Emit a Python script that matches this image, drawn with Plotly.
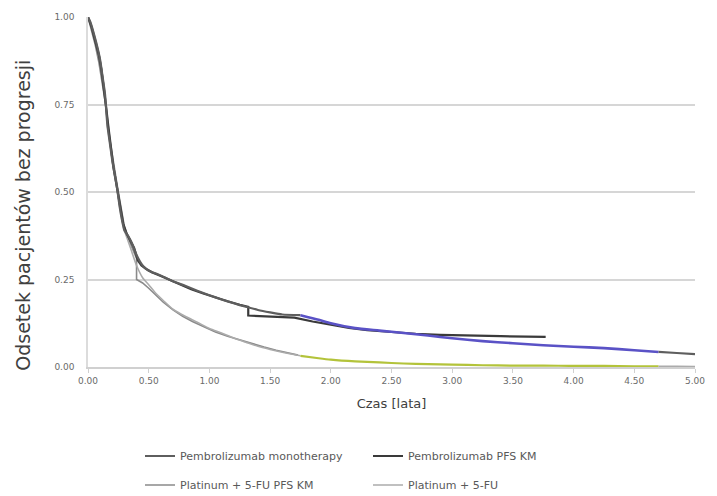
import plotly.graph_objects as go

# ---------------- data ----------------
t_model = [0, 0.02, 0.05, 0.08, 0.10, 0.12, 0.14, 0.16, 0.18, 0.20, 0.22, 0.24, 0.26, 0.28,
           0.30, 0.33, 0.36, 0.40, 0.45, 0.50, 0.56, 0.62, 0.70, 0.80, 0.90, 1.00, 1.10, 1.20,
           1.30, 1.40, 1.50, 1.60, 1.75, 1.90, 2.00, 2.20, 2.40, 2.60, 2.80, 3.00, 3.25, 3.50,
           3.75, 4.00, 4.25, 4.50, 4.70, 4.85, 5.00]
pembro_model = [1.00, 0.985, 0.95, 0.91, 0.877, 0.83, 0.78, 0.69, 0.64, 0.59, 0.55, 0.51, 0.46,
                0.42, 0.39, 0.375, 0.355, 0.32, 0.29, 0.275, 0.267, 0.258, 0.245, 0.232, 0.218,
                0.205, 0.193, 0.182, 0.172, 0.163, 0.156, 0.150, 0.148, 0.135, 0.125, 0.111,
                0.104, 0.097, 0.090, 0.082, 0.074, 0.068, 0.062, 0.058, 0.054, 0.048, 0.043,
                0.040, 0.037]
platinum_model = [1.00, 0.985, 0.95, 0.91, 0.877, 0.83, 0.78, 0.69, 0.64, 0.59, 0.55, 0.51, 0.46,
                  0.42, 0.39, 0.36, 0.33, 0.29, 0.255, 0.235, 0.21, 0.19, 0.165, 0.145, 0.128,
                  0.11, 0.097, 0.083, 0.071, 0.059, 0.05, 0.042, 0.032, 0.025, 0.021, 0.016,
                  0.013, 0.010, 0.008, 0.007, 0.005, 0.004, 0.004, 0.003, 0.003, 0.002, 0.002,
                  0.002, 0.001]

t_km_pembro = [0, 0.03, 0.06, 0.09, 0.11, 0.13, 0.15, 0.17, 0.19, 0.21, 0.23, 0.25, 0.27, 0.29,
               0.32, 0.35, 0.38, 0.41, 0.44, 0.48, 0.53, 0.60, 0.68, 0.76, 0.85, 0.95, 1.05,
               1.15, 1.25, 1.32, 1.32, 1.50, 1.70, 1.85, 2.00, 2.15, 2.30, 2.50, 2.70, 2.90,
               3.10, 3.40, 3.77]
km_pembro = [1.0, 0.97, 0.93, 0.89, 0.85, 0.80, 0.74, 0.68, 0.62, 0.57, 0.53, 0.49, 0.45, 0.41,
             0.38, 0.36, 0.34, 0.305, 0.29, 0.28, 0.27, 0.26, 0.248, 0.235, 0.222, 0.21, 0.198,
             0.188, 0.178, 0.172, 0.147, 0.144, 0.141, 0.13, 0.12, 0.112, 0.105, 0.099, 0.095,
             0.092, 0.09, 0.088, 0.086]

t_km_platinum = [0, 0.03, 0.06, 0.09, 0.12, 0.15, 0.18, 0.21, 0.24, 0.27, 0.30, 0.34, 0.40,
                 0.40, 0.45, 0.50, 0.56, 0.62, 0.70, 0.78, 0.86, 0.95, 1.05, 1.15, 1.25, 1.35,
                 1.45, 1.55, 1.65, 1.73]
km_platinum = [1.0, 0.96, 0.92, 0.87, 0.81, 0.74, 0.65, 0.58, 0.52, 0.46, 0.40, 0.36, 0.31,
               0.25, 0.24, 0.225, 0.205, 0.185, 0.163, 0.145, 0.13, 0.115, 0.10, 0.088, 0.077,
               0.066, 0.057, 0.048, 0.04, 0.034]

names = ["Pembrolizumab monotherapy", "Pembrolizumab PFS KM",
         "Platinum + 5-FU PFS KM", "Platinum + 5-FU"]
x_ticks = [0, 0.5, 1.0, 1.5, 2.0, 2.5, 3.0, 3.5, 4.0, 4.5, 5.0]
y_ticks = [0, 0.25, 0.5, 0.75, 1.0]
y_title = "Odsetek pacjentów bez progresji"

T_CUT1, T_CUT2 = 1.75, 4.70

# ---------------- helpers ----------------
def seg(t, v, lo, hi):
    xs, ys = [], []
    for a, b in zip(t, v):
        if lo <= a <= hi:
            xs.append(a)
            ys.append(b)
    return xs, ys

fig = go.Figure()

def add_model(t, v, grey, colour, width, cwidth, name, legend, rank):
    x1, y1 = seg(t, v, 0, T_CUT1)
    x2, y2 = seg(t, v, T_CUT1, T_CUT2)
    x3, y3 = seg(t, v, T_CUT2, 10)
    fig.add_trace(go.Scatter(x=x1, y=y1, mode="lines", name=name, legend=legend, legendrank=rank,
                             line=dict(color=grey, width=width, shape="spline", smoothing=0.6)))
    fig.add_trace(go.Scatter(x=x2, y=y2, mode="lines", showlegend=False,
                             line=dict(color=colour, width=cwidth, shape="spline", smoothing=0.6)))
    fig.add_trace(go.Scatter(x=x3, y=y3, mode="lines", showlegend=False,
                             line=dict(color=grey, width=width, shape="spline", smoothing=0.6)))

fig.add_trace(go.Scatter(x=t_km_platinum, y=km_platinum, mode="lines", name=names[2],
                         legend="legend2", legendrank=1,
                         line=dict(color="#8a8a8a", width=1.6)))
add_model(t_model, platinum_model, "#ababab", "#b3c33a", 1.6, 2.2, names[3], "legend2", 2)
fig.add_trace(go.Scatter(x=t_km_pembro, y=km_pembro, mode="lines", name=names[1],
                         legend="legend", legendrank=2,
                         line=dict(color="#3a3a3a", width=2.2)))
add_model(t_model, pembro_model, "#5e5e5e", "#5a52c6", 2.2, 2.6, names[0], "legend", 1)

legend_common = dict(orientation="h", xref="container", yref="container",
                     xanchor="left", yanchor="middle", entrywidth=183,
                     entrywidthmode="pixels", traceorder="normal",
                     font=dict(family="DejaVu Sans", size=11, color="#595959"),
                     bgcolor="rgba(0,0,0,0)", itemwidth=30)

fig.update_layout(
    width=717, height=496,
    margin=dict(l=88, r=15, t=17, b=129),
    paper_bgcolor="white", plot_bgcolor="white",
    font=dict(family="DejaVu Sans", color="#595959"),
    xaxis=dict(range=[0, 5], tickvals=x_ticks, tickformat=".2f",
               showgrid=False, zeroline=False, showline=True, linecolor="#d0d0d0",
               linewidth=1.5, ticks="outside", ticklen=4, tickcolor="#d0d0d0",
               tickfont=dict(size=9, color="#6a6a6a"),
               title=dict(text="Czas [lata]", font=dict(size=13, color="#404040"), standoff=14)),
    yaxis=dict(range=[0, 1.0], tickvals=y_ticks, tickformat=".2f",
               showgrid=True, gridcolor="#d6d6d6", gridwidth=1.5,
               zeroline=False, showline=True, linecolor="#dcdcdc", linewidth=1.5,
               ticks="", ticklabelstandoff=10,
               tickfont=dict(size=9, color="#6a6a6a")),
    legend=dict(x=140 / 717, y=1 - 456 / 496, **legend_common),
    legend2=dict(x=140 / 717, y=1 - 485 / 496, **legend_common),
)

fig.add_annotation(text=y_title, textangle=-90, showarrow=False,
                   xref="paper", yref="paper", x=(22 - 88) / 614, y=(367 - 215) / 350,
                   xanchor="center", yanchor="middle",
                   font=dict(family="DejaVu Sans", size=19, color="#404040"))

fig.write_html("out.html")
